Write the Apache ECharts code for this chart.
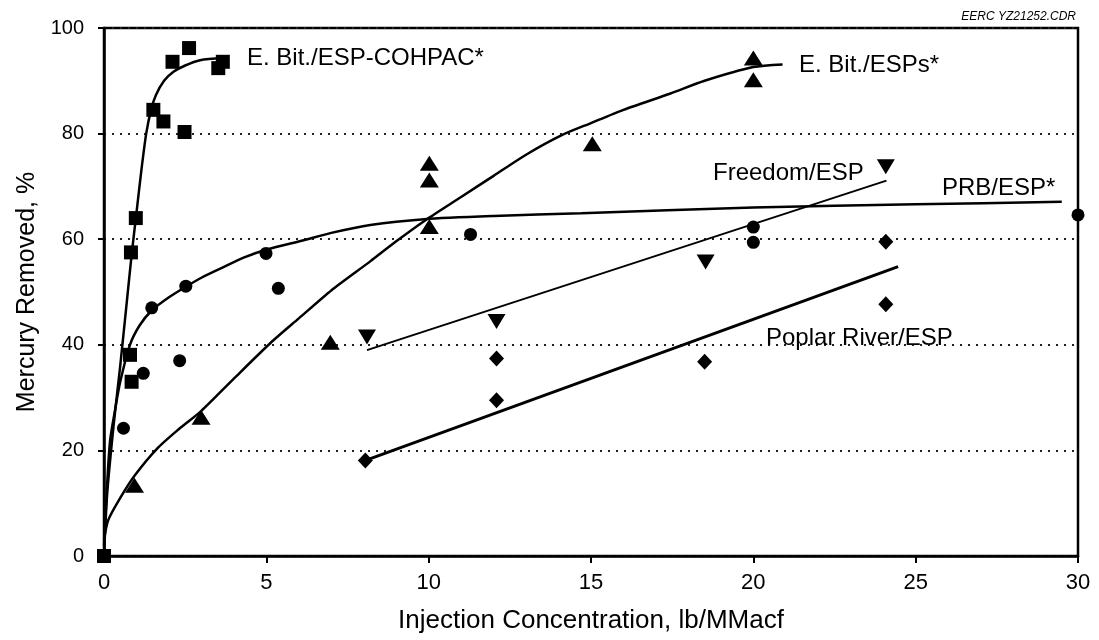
<!DOCTYPE html>
<html>
<head>
<meta charset="utf-8">
<script src="https://cdn.jsdelivr.net/npm/echarts@6/dist/echarts.min.js"></script>
<style>
  html, body { margin: 0; padding: 0; background: #fff; }
  #chart { width: 1099px; height: 640px; }
</style>
</head>
<body>
<div id="chart"></div>
<script>
// ---- Data ----
const xTicks = [0, 5, 10, 15, 20, 25, 30];
const yTicks = [0, 20, 40, 60, 80, 100];

// Measured points [injection lb/MMacf, mercury removed %]
const cohpacPts = [[0,0],[0.80,38.1],[0.85,33.0],[0.83,57.5],[0.98,64.0],[1.52,84.5],[1.83,82.3],[2.48,80.3],[2.11,93.6],[2.62,96.2],[3.52,92.4],[3.66,93.6]];
const prbPts = [[0.6,24.2],[1.21,34.6],[1.47,47.0],[2.33,37.0],[2.52,51.1],[4.99,57.3],[5.37,50.7],[11.29,60.9],[20.0,62.3],[20.0,59.4],[30.0,64.6]];
const espPts = [[0.94,13.4],[2.99,26.3],[6.97,40.5],[10.02,62.4],[10.02,71.2],[10.02,74.4],[15.04,78.1],[20.0,90.2],[20.0,94.3]];
const freedomPts = [[8.1,41.5],[12.09,44.4],[18.53,55.7],[24.08,73.7]];
const poplarPts = [[8.05,18.1],[12.09,29.5],[12.09,37.4],[18.5,36.8],[24.08,47.7],[24.08,59.5]];

// Fitted curves
const cohpacFit = [[0,0],[0.1,12],[0.3,25],[0.5,36],[0.7,48],[0.85,57],[1.0,65],[1.15,73],[1.3,80],[1.45,84.5],[1.6,87.3],[1.85,90],[2.14,91.7],[2.5,92.9],[2.96,93.9],[3.68,94.3]];
const prbFit = [[0,2],[0.1,14],[0.19,22],[0.35,28],[0.5,33],[0.8,40],[1.1,43.7],[1.47,46.5],[2,49],[2.52,51],[3,52.7],[3.68,54.7],[4.3,56.5],[4.99,58],[6.15,59.8],[7,61.2],[8.2,62.7],[9.86,63.8],[12,64.4],[14.7,64.9],[20,66.0],[25,66.6],[29.5,67.1]];
const espFit = [[0,3],[0.13,6.8],[0.5,11],[0.94,15.2],[1.63,20.3],[2.3,24],[3,27.5],[4,33.6],[5.12,40.3],[6,45],[7,50.3],[8.2,55.8],[9,59.6],[9.9,63.6],[11,68],[12,72],[13,76],[14.1,79.7],[15,82],[16,84.5],[17.45,87.6],[18.5,90],[20,92.6],[20.9,93.1]];
const freedomFit = [[8.1,39.0],[24.1,71.1]];
const poplarFit = [[8.1,18.2],[24.46,54.8]];

// Text
const seriesNames = ['E. Bit./ESP-COHPAC*', 'E. Bit./ESPs*', 'Freedom/ESP', 'PRB/ESP*', 'Poplar River/ESP'];
const xTitle = 'Injection Concentration, lb/MMacf';
const yTitle = 'Mercury Removed, %';
const stamp = 'EERC YZ21252.CDR';

// ---- Chart ----
const FONT = "'Liberation Sans', Arial, Helvetica, sans-serif";
const chart = echarts.init(document.getElementById('chart'), null, { renderer: 'canvas' });

function fitLine(data, width) {
  return {
    type: 'line', data: data, showSymbol: false, symbol: 'none',
    smooth: 0.25,
    lineStyle: { color: '#000', width: width || 2.5 },
    z: 2, silent: true
  };
}
function pts(data, symbol, size, rotate) {
  return {
    type: 'scatter', data: data, symbol: symbol, symbolSize: size,
    symbolRotate: rotate || 0,
    itemStyle: { color: '#000', opacity: 1 }, z: 3, silent: true
  };
}

const option = {
  animation: false,
  backgroundColor: '#fff',
  grid: { left: 104, right: 21, top: 28, bottom: 84, show: true, borderColor: '#000', borderWidth: 2.5 },
  xAxis: {
    type: 'value', min: xTicks[0], max: xTicks[xTicks.length - 1], interval: 5,
    name: xTitle, nameLocation: 'middle', nameGap: 52,
    nameTextStyle: { fontSize: 26, color: '#000', fontFamily: FONT },
    axisLine: { lineStyle: { color: '#000', width: 2.5 } },
    axisTick: { show: true, length: 7, lineStyle: { color: '#000', width: 2 } },
    axisLabel: { fontSize: 22, color: '#000', margin: 16, fontFamily: FONT },
    splitLine: { show: false }
  },
  yAxis: {
    type: 'value', min: yTicks[0], max: yTicks[yTicks.length - 1], interval: 20,
    name: yTitle, nameLocation: 'middle', nameGap: 62, nameRotate: 90,
    nameTextStyle: { fontSize: 25, color: '#000', fontFamily: FONT },
    axisLine: { lineStyle: { color: '#000', width: 2.5 } },
    axisTick: { show: true, length: 6, lineStyle: { color: '#000', width: 2 } },
    axisLabel: { fontSize: 20, color: '#000', margin: 20, fontFamily: FONT },
    splitLine: { show: true, lineStyle: { type: [2, 6], color: '#222', width: 2 } }
  },
  series: [
    fitLine(cohpacFit, 2.5),
    fitLine(prbFit, 2.5),
    fitLine(espFit, 2.5),
    fitLine(freedomFit, 2),
    fitLine(poplarFit, 3),
    pts(cohpacPts, 'rect', 14),
    pts(prbPts, 'circle', 13),
    pts(espPts, 'triangle', [19, 15]),
    pts(freedomPts, 'triangle', [18, 15], 180),
    pts(poplarPts, 'diamond', [15, 16])
  ],
  graphic: [
    { type: 'text', x: 247, y: 58, z: 10, style: { text: seriesNames[0], fontSize: 24, fontFamily: FONT, fill: '#000', align: 'left', verticalAlign: 'middle' } },
    { type: 'text', x: 799, y: 65, z: 10, style: { text: seriesNames[1], fontSize: 24, fontFamily: FONT, fill: '#000', align: 'left', verticalAlign: 'middle' } },
    { type: 'text', x: 713, y: 173, z: 10, style: { text: seriesNames[2], fontSize: 24, fontFamily: FONT, fill: '#000', align: 'left', verticalAlign: 'middle' } },
    { type: 'text', x: 942, y: 188, z: 10, style: { text: seriesNames[3], fontSize: 24, fontFamily: FONT, fill: '#000', align: 'left', verticalAlign: 'middle' } },
    { type: 'text', x: 766, y: 338, z: 10, style: { text: seriesNames[4], fontSize: 24, fontFamily: FONT, fill: '#000', align: 'left', verticalAlign: 'middle' } },
    { type: 'text', x: 1076, y: 17, z: 10, style: { text: stamp, fontSize: 12, fontStyle: 'italic', fontFamily: FONT, fill: '#000', align: 'right', verticalAlign: 'middle' } }
  ]
};
chart.setOption(option);
</script>
</body>
</html>
